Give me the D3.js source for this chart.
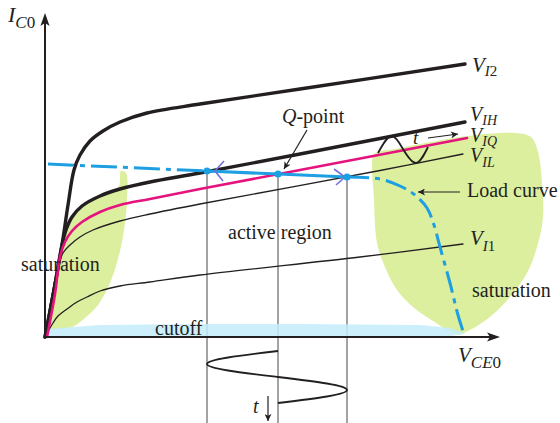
<!DOCTYPE html>
<html>
<head>
<meta charset="utf-8">
<script src="https://cdn.jsdelivr.net/npm/d3@7"></script>
<style>
  html, body { margin: 0; padding: 0; background: #fff; }
  svg { display: block; font-family: "Liberation Serif", "DejaVu Serif", serif; }
</style>
</head>
<body>
<svg id="chart" width="560" height="423"></svg>
<script>
// Output characteristics I_C0 (mA) versus V_CE0 (V), one curve per input level.
const curveVI2 = [[0,0],[0.18,0.94],[0.34,1.84],[0.46,2.64],[0.58,3.34],[0.70,3.64],[0.90,3.92],[1.16,4.12],[1.50,4.30],[2.04,4.48],[3.10,4.66],[5.10,4.96],[8.40,5.46]];
const curveVIH = [[0,0],[0.18,0.94],[0.34,1.84],[0.42,2.14],[0.54,2.40],[0.74,2.62],[1.10,2.82],[1.50,2.96],[2.10,3.10],[3.10,3.28],[5.10,3.66],[8.40,4.30]];
const curveVIQ = [[0.04,0],[0.20,0.86],[0.30,1.60],[0.40,1.90],[0.54,2.12],[0.74,2.30],[1.10,2.50],[1.50,2.64],[2.10,2.76],[3.10,2.96],[5.10,3.34],[8.44,3.98]];
const curveVIL = [[0,0],[0.14,0.84],[0.26,1.40],[0.36,1.68],[0.50,1.84],[0.70,2.00],[0.96,2.14],[1.50,2.32],[2.10,2.46],[3.10,2.66],[6.70,3.33],[8.36,3.66]];
const curveVI1 = [[0,0],[0.16,0.28],[0.26,0.42],[0.44,0.56],[0.64,0.70],[0.84,0.80],[1.10,0.92],[1.50,1.02],[2.10,1.10],[3.10,1.24],[6.30,1.60],[8.36,1.86]];

// Load curve; points 1..3 are the lower swing limit, the Q-point and the upper swing limit.
const loadCurve = [[0.06,3.46],[3.24,3.32],[4.66,3.26],[6.04,3.20],[6.70,3.16],[7.10,3.02],[7.40,2.84],[7.64,2.58],[7.78,2.24],[7.90,1.80],[8.10,1.08],[8.26,0.44],[8.36,0.12]];
const swingIdx = [1, 2, 3];

// Output voltage swing drawn against time below the V_CE0 axis (negative y = time).
const vceWave = [[4.66,-0.28],[3.66,-0.41],[3.24,-0.54],[3.66,-0.67],[4.66,-0.80],[5.64,-0.93],[6.04,-1.06],[5.64,-1.19],[4.66,-1.32]];
// Input swing around V_IQ drawn against time.
const inputWave = [[6.66,3.68],[6.92,4.02],[7.16,3.76],[7.42,3.48],[7.66,3.80]];

// Region outlines.
const satLeft = [[1.52,3.32],[1.62,3.28],[1.64,2.74],[1.58,2.14],[1.48,1.64],[1.30,1.08],[1.06,0.64],[0.80,0.38],[0.54,0.20],[0.10,0.14],[0.04,0.12],[0.20,0.94],[0.36,1.84],[0.50,2.30],[0.80,2.64],[1.10,2.82],[1.36,2.94],[1.48,3.02]];
const satRight = [[6.56,3.62],[6.64,3.70],[7.00,3.76],[7.50,3.86],[8.44,4.02],[9.40,4.08],[9.72,4.00],[9.86,3.70],[9.94,3.08],[9.96,2.40],[9.84,1.80],[9.64,1.28],[9.30,0.80],[8.90,0.40],[8.50,0.14],[8.24,0.06],[7.76,0.32],[7.36,0.60],[7.04,0.94],[6.80,1.40],[6.64,1.88],[6.58,2.74]];
const cutoffBand = [[0.04,0.16],[1.10,0.24],[3.10,0.26],[5.10,0.26],[7.50,0.24],[8.10,0.18],[8.42,0.06],[8.10,0.02],[0.04,0.02]];

const W = 560, H = 423;
const ink = "#231f20";
const svg = d3.select("#chart");

const x = d3.scaleLinear().domain([0, 9.1]).range([45, 500]);
const y = d3.scaleLinear().domain([0, 6.48]).range([337, 13]);

const smooth = d3.line().x(d => x(d[0])).y(d => y(d[1])).curve(d3.curveCatmullRom.alpha(0.5));
const straight = d3.line().x(d => x(d[0])).y(d => y(d[1]));
const wavy = d3.line().x(d => x(d[0])).y(d => y(d[1])).curve(d3.curveNatural);
const blob = d3.line().x(d => x(d[0])).y(d => y(d[1])).curve(d3.curveCatmullRomClosed.alpha(0.5));
const band = d3.line().x(d => x(d[0])).y(d => y(d[1])).curve(d3.curveLinearClosed);

// Arrowhead markers
const defs = svg.append("defs");
function marker(id, w, h) {
  defs.append("marker").attr("id", id)
    .attr("viewBox", "0 0 10 10").attr("refX", 10).attr("refY", 5)
    .attr("markerUnits", "userSpaceOnUse").attr("markerWidth", w).attr("markerHeight", h)
    .attr("orient", "auto")
    .append("path").attr("d", "M0,0L10,5L0,10L2.5,5Z").attr("fill", ink);
}
marker("arrowSmall", 9, 7);

// Saturation regions and cutoff band
svg.append("path").attr("d", blob(satLeft)).attr("fill", "#dcef9e");
svg.append("path").attr("d", blob(satRight)).attr("fill", "#dcef9e");

// Vertical projections from the swing points down through the time trace
const swingPts = swingIdx.map(i => loadCurve[i]);
svg.append("g").selectAll("line").data(swingPts).join("line")
  .attr("x1", d => x(d[0])).attr("x2", d => x(d[0]))
  .attr("y1", d => y(d[1])).attr("y2", H)
  .attr("stroke", "#666").attr("stroke-width", 1.2);

svg.append("path").attr("d", band(cutoffBand)).attr("fill", "#c4ecfb").attr("opacity", 0.85);

// Characteristic curves
const curves = [
  { pts: curveVI1, color: ink, width: 1.3 },
  { pts: curveVIL, color: ink, width: 1.3 },
  { pts: curveVIH, color: ink, width: 3.4 },
  { pts: curveVI2, color: ink, width: 3.4 },
  { pts: curveVIQ, color: "#e5137e", width: 2.6 }
];
svg.append("g").selectAll("path").data(curves).join("path")
  .attr("d", d => smooth(d.pts))
  .attr("fill", "none")
  .attr("stroke", d => d.color)
  .attr("stroke-width", d => d.width)
  .attr("stroke-linecap", "round");

// Load curve: dash-dot outside the swing, solid between the swing limits
const loadBlue = "#1d9fe2";
svg.append("path").attr("d", smooth(loadCurve.slice(0, swingIdx[0] + 1)))
  .attr("fill", "none").attr("stroke", loadBlue).attr("stroke-width", 3)
  .attr("stroke-dasharray", "26,6,5,6");
svg.append("path").attr("d", smooth(loadCurve.slice(swingIdx[2])))
  .attr("fill", "none").attr("stroke", loadBlue).attr("stroke-width", 3)
  .attr("stroke-dasharray", "22,6,5,6");
svg.append("path").attr("d", straight(swingPts))
  .attr("fill", "none").attr("stroke", loadBlue).attr("stroke-width", 3.2);

// Direction chevrons along the swing
const chevrons = [
  [[3.58,3.52],[3.40,3.32],[3.56,3.12]],
  [[5.78,3.36],[6.00,3.20],[5.82,3.04]]
];
svg.append("g").selectAll("path").data(chevrons).join("path")
  .attr("d", d => straight(d)).attr("fill", "none")
  .attr("stroke", "#7470d8").attr("stroke-width", 1.6);

svg.append("g").selectAll("circle").data(swingPts).join("circle")
  .attr("cx", d => x(d[0])).attr("cy", d => y(d[1])).attr("r", 3.6)
  .attr("fill", loadBlue);

// Time traces
svg.append("path").attr("d", wavy(vceWave)).attr("fill", "none").attr("stroke", ink).attr("stroke-width", 1.8);
svg.append("path").attr("d", wavy(inputWave)).attr("fill", "none").attr("stroke", ink).attr("stroke-width", 1.8);

// Axes with arrowheads
function axisArrow(tx, ty, angle) {
  svg.append("path").attr("d", "M0,0L-13,-4.6L-10,0L-13,4.6Z")
    .attr("transform", `translate(${tx},${ty}) rotate(${angle})`).attr("fill", ink);
}
svg.append("line").attr("x1", x(0)).attr("x2", x(9.1) - 6).attr("y1", y(0)).attr("y2", y(0))
  .attr("stroke", ink).attr("stroke-width", 2);
svg.append("line").attr("x1", x(0)).attr("x2", x(0)).attr("y1", y(0)).attr("y2", y(6.48) + 6)
  .attr("stroke", ink).attr("stroke-width", 2);
axisArrow(x(9.1), y(0), 0);
axisArrow(x(0), y(6.48), -90);

// Pointer arrows
function pointer(x1, y1, x2, y2, w) {
  svg.append("line").attr("x1", x1).attr("y1", y1).attr("x2", x2).attr("y2", y2)
    .attr("stroke", ink).attr("stroke-width", w || 1.2).attr("marker-end", "url(#arrowSmall)");
}
const q = loadCurve[swingIdx[1]];
pointer(307, 130, x(q[0]) + 6, y(q[1]) - 5);
pointer(460, 192, 418, 192);
pointer(428, 138, 458, 134);
pointer(268, 396, 268, 421);

// Labels
function subLabel(px, py, main, parts, size, subSize, dy) {
  const t = svg.append("text").attr("x", px).attr("y", py).attr("font-size", size).attr("fill", ink);
  t.append("tspan").attr("font-style", "italic").text(main);
  parts.forEach((p, i) => {
    const s = t.append("tspan").attr("font-size", subSize)
      .attr("font-style", p[1] ? "italic" : "normal").text(p[0]);
    if (i === 0) s.attr("dy", dy);
  });
}
subLabel(8, 22, "I", [["C", true], ["0", false]], 22, 17, 6);
subLabel(472, 72, "V", [["I", true], ["2", false]], 21, 15, 4);
subLabel(470, 121, "V", [["I", true], ["H", true]], 20, 14, 4);
subLabel(470, 142, "V", [["I", true], ["Q", true]], 20, 14, 4);
subLabel(470, 162, "V", [["I", true], ["L", true]], 20, 14, 5);
subLabel(470, 245, "V", [["I", true], ["1", false]], 21, 15, 6);
subLabel(458, 362, "V", [["C", true], ["E", true], ["0", false]], 21, 17, 6);

function plain(px, py, txt, size) {
  return svg.append("text").attr("x", px).attr("y", py).attr("font-size", size || 20).attr("fill", ink).text(txt);
}
const qLab = svg.append("text").attr("x", 282).attr("y", 123).attr("font-size", 20).attr("fill", ink);
qLab.append("tspan").attr("font-style", "italic").text("Q");
qLab.append("tspan").text("-point");
plain(228, 239, "active region");
plain(21, 271, "saturation");
plain(155, 335, "cutoff");
plain(467, 197, "Load curve");
plain(472, 297, "saturation");
plain(413, 144, "t", 19).attr("font-style", "italic");
plain(253, 413, "t", 20).attr("font-style", "italic");
</script>
</body>
</html>
